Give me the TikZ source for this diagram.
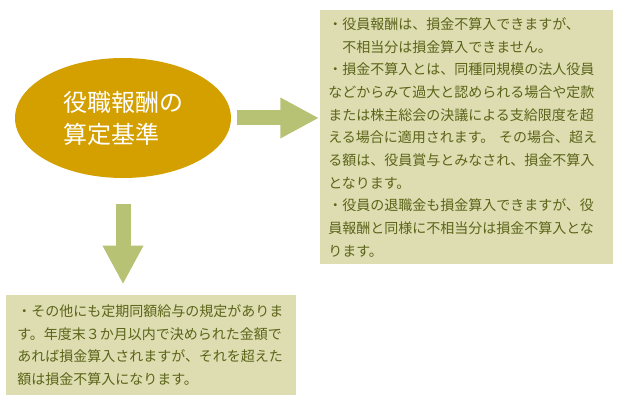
\documentclass[tikz,border=0pt]{standalone}
\usepackage{fontspec}
\newfontfamily\jpfont{Noto Sans CJK JP}
\definecolor{boxolive}{HTML}{DDDDB1}
\definecolor{textolive}{HTML}{5B6418}
\definecolor{arrowgreen}{HTML}{B8C274}
\definecolor{titlegold}{HTML}{D4A000}
\usetikzlibrary{
  arrows.meta,
  positioning,
  shapes.geometric,
  calc
}

\begin{document}
\begin{tikzpicture}[
  x=0.75pt, y=-0.75pt,
  titleoval/.style={
    ellipse, fill=titlegold, text=white,
    minimum width=162pt, minimum height=90pt, inner sep=0pt,
    font=\jpfont\fontsize{18pt}{24pt}\selectfont, align=left
  },
  infobox/.style={
    rectangle, fill=boxolive, text=textolive, anchor=north west,
    font=\jpfont\fontsize{10.5pt}{17pt}\selectfont, align=left
  },
  blockarrow/.style={draw=arrowgreen, line width=11.25pt, -{Triangle[length=29pt, width=28.5pt]}}
]
\useasboundingbox (0,0) rectangle (625,409);
\node[titleoval] (title) at (123,118) {役職報酬の\\算定基準};
\node[infobox, text width=207.75pt, inner xsep=6pt, minimum height=190.5pt] (detail) at (320,10)
  {・役員報酬は、損金不算入できますが、\\
   \hspace*{1em}不相当分は損金算入できません。\\
   ・損金不算入とは、同種同規模の法人役員\\
   などからみて過大と認められる場合や定款\\
   または株主総会の決議による支給限度を超\\
   える場合に適用されます。 その場合、超え\\
   る額は、役員賞与とみなされ、損金不算入\\
   となります。\\
   ・役員の退職金も損金算入できますが、役\\
   員報酬と同様に不相当分は損金不算入とな\\
   ります。};
\node[infobox, text width=201pt, inner xsep=8.25pt, minimum height=75pt] (note) at (6,295)
  {・その他にも定期同額給与の規定がありま\\
   す。年度末３か月以内で決められた金額で\\
   あれば損金算入されますが、それを超えた\\
   額は損金不算入になります。};
\draw[blockarrow] ([xshift=4.5pt]title.east) -- ([xshift=-0.75pt]title.east -| detail.west);
\draw[blockarrow] ([yshift=-19pt]title.south) -- ([yshift=8pt]title.south |- note.north);
\end{tikzpicture}
\end{document}
